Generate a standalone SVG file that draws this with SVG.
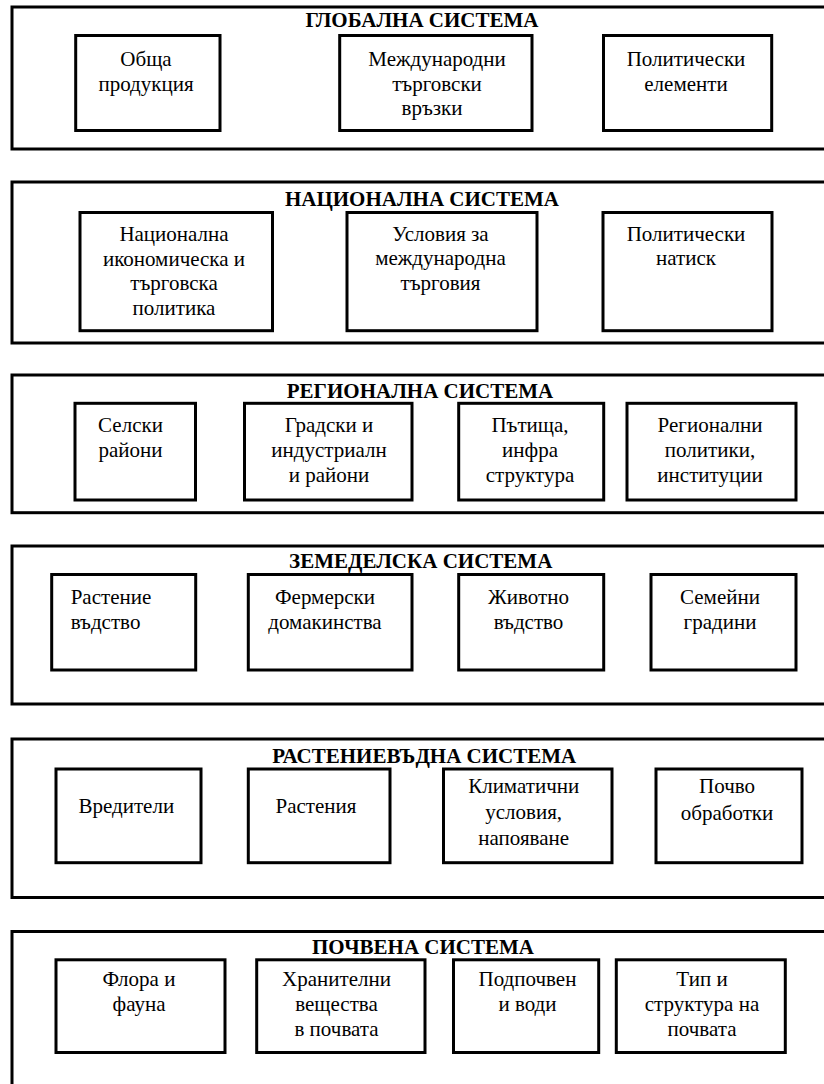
<svg xmlns="http://www.w3.org/2000/svg" width="824" height="1084" viewBox="0 0 824 1084">
<style>
.frame{fill:none;stroke:#000;stroke-width:3}
.box{fill:#fff;stroke:#000;stroke-width:3}
.title{font-family:"Liberation Serif","Times New Roman",serif;font-weight:bold;font-size:21px;text-anchor:middle;fill:#000}
.t{font-family:"Liberation Serif","Times New Roman",serif;font-size:21px;text-anchor:middle;fill:#000}
.tl{font-family:"Liberation Serif","Times New Roman",serif;font-size:21px;text-anchor:start;fill:#000}
</style>
<rect width="824" height="1084" fill="#fff"/>

<g id="global-system">
<rect class="frame" x="12" y="7" width="830" height="142"/>
<text class="title" x="422" y="27.3">ГЛОБАЛНА СИСТЕМА</text>
<g id="g-obshta"><rect class="box" x="75.7" y="35.5" width="144.3" height="95"/>
<text class="t" x="146" y="65.7">Обща</text><text class="t" x="146" y="90.5">продукция</text></g>
<g id="g-mezhd"><rect class="box" x="339.7" y="35.5" width="192.3" height="95"/>
<text class="t" x="437" y="65.7">Международни</text><text class="t" x="437" y="90.5">търговски</text><text class="t" x="432" y="115">връзки</text></g>
<g id="g-polit"><rect class="box" x="603.5" y="35.5" width="168.2" height="95"/>
<text class="t" x="686" y="65.7">Политически</text><text class="t" x="686" y="90.5">елементи</text></g>
</g>

<g id="national-system">
<rect class="frame" x="12" y="182" width="830" height="161"/>
<text class="title" x="422" y="205.5">НАЦИОНАЛНА СИСТЕМА</text>
<g id="n-policy"><rect class="box" x="80" y="212.5" width="192.5" height="118.2"/>
<text class="t" x="174" y="241">Национална</text><text class="t" x="174" y="265.5">икономическа и</text><text class="t" x="174" y="290">търговска</text><text class="t" x="174" y="314.5">политика</text></g>
<g id="n-trade"><rect class="box" x="347" y="212.5" width="190" height="118.2"/>
<text class="t" x="440.5" y="240.5">Условия за</text><text class="t" x="440.5" y="265">международна</text><text class="t" x="440.5" y="289.5">търговия</text></g>
<g id="n-pressure"><rect class="box" x="603" y="212.5" width="169" height="118.2"/>
<text class="t" x="686" y="240.5">Политически</text><text class="t" x="686" y="265">натиск</text></g>
</g>

<g id="regional-system">
<rect class="frame" x="12" y="375" width="830" height="137.7"/>
<text class="title" x="420" y="397.5">РЕГИОНАЛНА СИСТЕМА</text>
<g id="r-rural"><rect class="box" x="75" y="403.3" width="120.5" height="96.7"/>
<text class="t" x="130.5" y="431.7">Селски</text><text class="t" x="130.5" y="456.7">райони</text></g>
<g id="r-urban"><rect class="box" x="244.5" y="403.3" width="167.5" height="96.7"/>
<text class="t" x="329" y="431.7">Градски и</text><text class="t" x="329" y="456.7">индустриалн</text><text class="t" x="329" y="481.7">и райони</text></g>
<g id="r-roads"><rect class="box" x="458.7" y="403.3" width="145" height="96.7"/>
<text class="t" x="530" y="431.7">Пътища,</text><text class="t" x="530" y="456.7">инфра</text><text class="t" x="530" y="481.7">структура</text></g>
<g id="r-policies"><rect class="box" x="627" y="403.3" width="169" height="96.7"/>
<text class="t" x="710" y="431.7">Регионални</text><text class="t" x="710" y="456.7">политики,</text><text class="t" x="710" y="481.7">институции</text></g>
</g>

<g id="agricultural-system">
<rect class="frame" x="12" y="546" width="830" height="158"/>
<text class="title" x="420.7" y="567.8">ЗЕМЕДЕЛСКА СИСТЕМА</text>
<g id="a-crops"><rect class="box" x="51.7" y="574.5" width="144" height="95.5"/>
<text class="tl" x="70.7" y="603.5">Растение</text><text class="tl" x="70.7" y="628.5">въдство</text></g>
<g id="a-farm"><rect class="box" x="248.3" y="574.5" width="163.7" height="95.5"/>
<text class="t" x="325" y="603.5">Фермерски</text><text class="t" x="325" y="628.5">домакинства</text></g>
<g id="a-livestock"><rect class="box" x="458.7" y="574.5" width="145" height="95.5"/>
<text class="t" x="528.5" y="603.5">Животно</text><text class="t" x="528.5" y="628.5">въдство</text></g>
<g id="a-gardens"><rect class="box" x="651" y="574.5" width="145" height="95.5"/>
<text class="t" x="720" y="603.5">Семейни</text><text class="t" x="720" y="628.5">градини</text></g>
</g>

<g id="crop-system">
<rect class="frame" x="12" y="739" width="830" height="158.5"/>
<text class="title" x="424.3" y="763">РАСТЕНИЕВЪДНА СИСТЕМА</text>
<g id="c-pests"><rect class="box" x="56" y="769" width="145" height="93.7"/>
<text class="t" x="126.3" y="813.4">Вредители</text></g>
<g id="c-plants"><rect class="box" x="248.3" y="769" width="141.7" height="93.7"/>
<text class="t" x="316" y="813.4">Растения</text></g>
<g id="c-climate"><rect class="box" x="443.5" y="769" width="168.5" height="93.7"/>
<text class="t" x="523.7" y="793.3">Климатични</text><text class="t" x="523.7" y="819">условия,</text><text class="t" x="523.7" y="844.5">напояване</text></g>
<g id="c-tillage"><rect class="box" x="656" y="769" width="146" height="93.7"/>
<text class="t" x="727" y="793.3">Почво</text><text class="t" x="727" y="820">обработки</text></g>
</g>

<g id="soil-system">
<rect class="frame" x="12" y="931.5" width="830" height="200"/>
<text class="title" x="423" y="953.6">ПОЧВЕНА СИСТЕМА</text>
<g id="s-flora"><rect class="box" x="56" y="959.8" width="169" height="92.7"/>
<text class="t" x="139" y="986">Флора и</text><text class="t" x="139" y="1011">фауна</text></g>
<g id="s-nutrients"><rect class="box" x="256.7" y="959.8" width="168.3" height="92.7"/>
<text class="t" x="336.5" y="986">Хранителни</text><text class="t" x="336.5" y="1011">вещества</text><text class="t" x="336.5" y="1036">в почвата</text></g>
<g id="s-water"><rect class="box" x="453.5" y="959.8" width="145.2" height="92.7"/>
<text class="t" x="527.5" y="986">Подпочвен</text><text class="t" x="527.5" y="1011">и води</text></g>
<g id="s-type"><rect class="box" x="616.3" y="959.8" width="169" height="92.7"/>
<text class="t" x="702" y="986">Тип и</text><text class="t" x="702" y="1011">структура на</text><text class="t" x="702" y="1036">почвата</text></g>
</g>

<g id="connectors"></g>
</svg>
